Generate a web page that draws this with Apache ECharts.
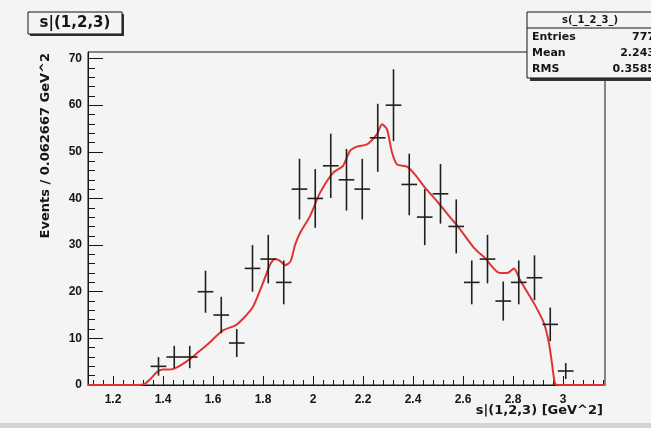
<!DOCTYPE html>
<html>
<head>
<meta charset="utf-8">
<script src="https://cdn.jsdelivr.net/npm/echarts@6/dist/echarts.min.js"></script>
<style>
  html, body { margin: 0; padding: 0; background: #f4f4f4; }
  #chart { width: 651px; height: 428px; }
</style>
</head>
<body>
<div id="chart"></div>
<script>
// Histogram of s(1,2,3): bin centres, bin contents and their errors
const binCenters = [1.382, 1.445, 1.507, 1.570, 1.633, 1.695, 1.758, 1.821, 1.883,
  1.946, 2.009, 2.071, 2.134, 2.197, 2.259, 2.322, 2.385, 2.447, 2.510,
  2.573, 2.635, 2.698, 2.761, 2.823, 2.886, 2.949, 3.011];
const counts = [4, 6, 6, 20, 15, 9, 25, 27, 22,
  42, 40, 47, 44, 42, 53, 60, 43, 36, 41,
  34, 22, 27, 18, 22, 23, 13, 3];
const countErrors = [2.0, 2.4, 2.4, 4.5, 3.9, 3.0, 5.0, 5.2, 4.7,
  6.5, 6.3, 6.9, 6.6, 6.5, 7.3, 7.7, 6.6, 6.0, 6.4,
  5.8, 4.7, 5.2, 4.2, 4.7, 4.8, 3.6, 1.7];
const binHalfWidth = 0.0313;

// Fitted model curve
const fitX = [1.10, 1.20, 1.30, 1.328, 1.35, 1.376, 1.40, 1.42, 1.445, 1.47, 1.506,
  1.54, 1.58, 1.64, 1.69, 1.72, 1.76, 1.80, 1.83, 1.848, 1.868, 1.888, 1.91,
  1.928, 1.948, 1.988, 2.028, 2.08, 2.12, 2.148, 2.176, 2.216, 2.256, 2.276,
  2.296, 2.316, 2.336, 2.376, 2.408, 2.448, 2.496, 2.548, 2.584, 2.644, 2.688,
  2.748, 2.776, 2.804, 2.828, 2.884, 2.924, 2.944, 2.956, 2.968, 2.98, 3.05, 3.168];
const fitY = [0, 0, 0, 0.3, 1.3, 2.8, 3.3, 3.3, 3.5, 4.2, 5.5,
  7.0, 8.8, 11.7, 12.8, 14.2, 16.8, 21.9, 26.0, 27.0, 26.6, 25.7, 26.5,
  30.0, 32.6, 36.2, 41.2, 45.5, 47.0, 50.2, 51.1, 51.6, 53.8, 55.9,
  54.8, 49.9, 47.3, 46.8, 45.1, 42.3, 39.4, 36.0, 33.7, 29.4, 27.2,
  24.0, 24.0, 25.0, 22.5, 17.5, 13.2, 8.9, 4.6, 0.3, 0, 0, 0];

// Axis ticks and labels
const xTickLabels = [1.2, 1.4, 1.6, 1.8, 2.0, 2.2, 2.4, 2.6, 2.8, 3.0];
const yTickLabels = [0, 10, 20, 30, 40, 50, 60, 70];
const xRange = [1.1, 3.168];
const yRange = [0, 71.4];

const xMinorTicks = [];
for (let i = 28; i <= 79; i++) xMinorTicks.push(+(i * 0.04).toFixed(2));
const yMinorTicks = [];
for (let v = 0; v <= 70; v += 2) yMinorTicks.push(v);

const titleText = 's|(1,2,3)';
const xTitle = 's|(1,2,3) [GeV^2]';
const yTitle = 'Events / 0.062667 GeV^2';
const statsName = 's(_1_2_3_)';
const statsRows = [['Entries', '777'], ['Mean', '2.243'], ['RMS', '0.3585']];

const FONT = '"Liberation Sans", Arial, sans-serif';
const WIDE = '"DejaVu Sans", sans-serif';
const BG = '#f4f4f4';
const INK = '#151515';

const chart = echarts.init(document.getElementById('chart'), null, { renderer: 'canvas' });

const errorData = binCenters.map((x, i) => [x, counts[i], countErrors[i]]);
const fitData = fitX.map((x, i) => [x, fitY[i]]);

function renderErrorBar(params, api) {
  const x = api.value(0), y = api.value(1), e = api.value(2);
  const c = api.coord([x, y]);
  const hi = api.coord([x, y + e]);
  const lo = api.coord([x, Math.max(0, y - e)]);
  const l = api.coord([x - binHalfWidth, y]);
  const r = api.coord([x + binHalfWidth, y]);
  const style = { stroke: '#1f1f1f', lineWidth: 1.6 };
  return {
    type: 'group',
    children: [
      { type: 'line', shape: { x1: c[0], y1: hi[1], x2: c[0], y2: lo[1] }, style },
      { type: 'line', shape: { x1: l[0], y1: c[1], x2: r[0], y2: c[1] }, style }
    ]
  };
}

const labelFmt = v => String(+(+v).toFixed(1));

const option = {
  backgroundColor: BG,
  animation: false,
  grid: {
    left: 88, top: 52, width: 517, height: 333,
    show: true, borderColor: INK, borderWidth: 1, backgroundColor: BG
  },
  xAxis: [
    {
      type: 'value', min: xRange[0], max: xRange[1],
      axisLine: { show: true, lineStyle: { color: INK, width: 1 } },
      splitLine: { show: false },
      axisTick: { show: true, inside: true, length: 9, customValues: xTickLabels, lineStyle: { color: INK } },
      axisLabel: {
        show: true, customValues: xTickLabels, formatter: labelFmt, margin: 9,
        color: INK, fontFamily: FONT, fontWeight: 'bold', fontSize: 12
      }
    },
    {
      type: 'value', min: xRange[0], max: xRange[1], position: 'bottom',
      axisLine: { show: false },
      splitLine: { show: false },
      axisTick: { show: true, inside: true, length: 5, customValues: xMinorTicks, lineStyle: { color: INK } },
      axisLabel: { show: false }
    }
  ],
  yAxis: [
    {
      type: 'value', min: yRange[0], max: yRange[1],
      axisLine: { show: true, lineStyle: { color: INK, width: 1 } },
      splitLine: { show: false },
      axisTick: { show: true, inside: true, length: 15, customValues: yTickLabels, lineStyle: { color: INK } },
      axisLabel: {
        show: true, customValues: yTickLabels, margin: 6,
        color: INK, fontFamily: FONT, fontWeight: 'bold', fontSize: 12
      }
    },
    {
      type: 'value', min: yRange[0], max: yRange[1], position: 'left',
      axisLine: { show: false },
      splitLine: { show: false },
      axisTick: { show: true, inside: true, length: 7, customValues: yMinorTicks, lineStyle: { color: INK } },
      axisLabel: { show: false }
    }
  ],
  series: [
    {
      type: 'line', name: 'fit', data: fitData, xAxisIndex: 0, yAxisIndex: 0,
      showSymbol: false, smooth: 0.25, clip: true, z: 3,
      lineStyle: { color: '#e03434', width: 2 }
    },
    {
      type: 'custom', name: 'data', data: errorData, xAxisIndex: 0, yAxisIndex: 0,
      renderItem: renderErrorBar, clip: true, z: 4,
      encode: { x: 0, y: 1 }
    }
  ],
  graphic: [
    // histogram title box
    { type: 'rect', shape: { x: 30, y: 14, width: 94, height: 22 }, style: { fill: '#333' }, z: 10 },
    { type: 'rect', shape: { x: 28, y: 12, width: 94, height: 22 }, style: { fill: BG, stroke: INK, lineWidth: 1 }, z: 11 },
    { type: 'text', x: 75, y: 23, z: 12,
      style: { text: titleText, align: 'center', verticalAlign: 'middle', fill: INK,
        font: 'bold 15px ' + WIDE } },
    // statistics box
    { type: 'rect', shape: { x: 530, y: 15, width: 130, height: 66 }, style: { fill: '#333' }, z: 10 },
    { type: 'rect', shape: { x: 527, y: 12, width: 130, height: 66 }, style: { fill: BG, stroke: INK, lineWidth: 1 }, z: 11 },
    { type: 'line', shape: { x1: 527, y1: 28, x2: 657, y2: 28 }, style: { stroke: INK, lineWidth: 1 }, z: 12 },
    { type: 'text', x: 590, y: 20, z: 12,
      style: { text: statsName, align: 'center', verticalAlign: 'middle', fill: INK, font: 'bold 10px ' + WIDE } },
    ...statsRows.flatMap((row, i) => [
      { type: 'text', x: 532, y: 37 + i * 16, z: 12,
        style: { text: row[0], align: 'left', verticalAlign: 'middle', fill: INK, font: 'bold 11px ' + WIDE } },
      { type: 'text', x: 655, y: 37 + i * 16, z: 12,
        style: { text: row[1], align: 'right', verticalAlign: 'middle', fill: INK, font: 'bold 11px ' + WIDE } }
    ]),
    // axis titles
    { type: 'text', x: 603, y: 411, z: 12,
      style: { text: xTitle, align: 'right', verticalAlign: 'middle', fill: INK, font: 'bold 13px ' + WIDE } },
    { type: 'text', x: 46, y: 53, rotation: Math.PI / 2, z: 12,
      style: { text: yTitle, align: 'right', verticalAlign: 'middle', fill: INK, font: 'bold 13px ' + WIDE } },
    // lower border strip of the canvas
    { type: 'rect', shape: { x: 0, y: 423, width: 651, height: 5 }, style: { fill: '#d4d4d4' }, z: 1 }
  ]
};

chart.setOption(option);
</script>
</body>
</html>
